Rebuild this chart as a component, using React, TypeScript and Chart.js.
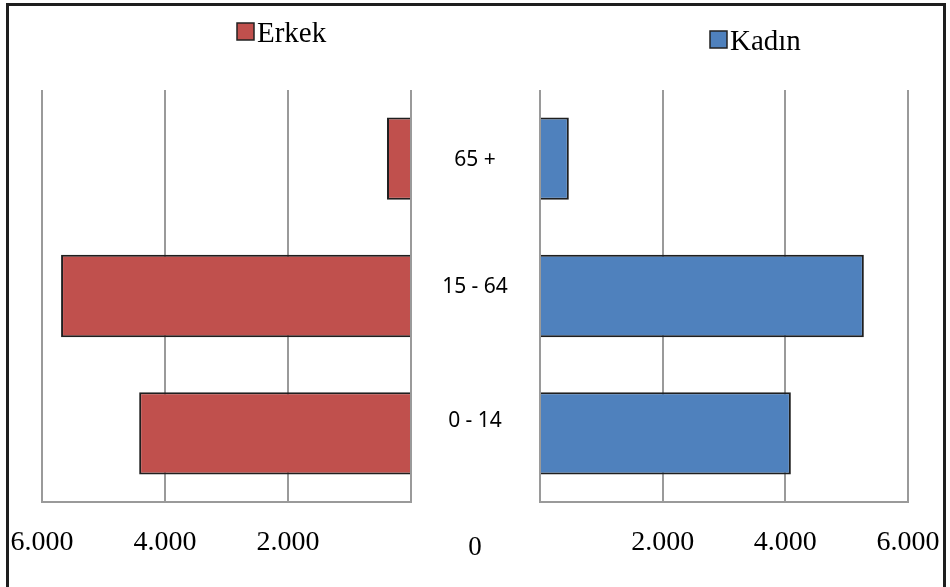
import React, { useEffect, useRef } from 'react';
import { Chart, registerables } from 'chart.js';

Chart.register(...registerables);

const ageGroups = ['65 +', '15 - 64', '0 - 14'];
const maleValues = [390, 5690, 4420];
const femaleValues = [470, 5280, 4090];
const maleLabel = 'Erkek';
const femaleLabel = 'Kadın';
const axisMax = 6000;
const axisStep = 2000;
const zeroLabel = '0';

const RED = '#C0504D';
const BLUE = '#4F81BD';
const GRID = '#9a9a9a';
const SERIF = '"Liberation Serif", "Times New Roman", serif';

const fmt = (v: number) =>
  v === 0 ? '' : String(v).replace(/\B(?=(\d{3})+(?!\d))/g, '.');

const sideLegend = {
  id: 'sideLegend',
  afterDraw(chart: any, _args: any, opts: any) {
    const ds = chart.data.datasets[0];
    const ctx = chart.ctx;
    ctx.save();
    ctx.fillStyle = ds.backgroundColor;
    ctx.fillRect(opts.x, opts.y, 17, 17);
    ctx.strokeStyle = '#222';
    ctx.lineWidth = 1.5;
    ctx.strokeRect(opts.x, opts.y, 17, 17);
    ctx.fillStyle = '#000';
    ctx.font = `29px ${SERIF}`;
    ctx.textAlign = 'left';
    ctx.textBaseline = 'alphabetic';
    ctx.fillText(ds.label, opts.x + 20, opts.baseline);
    ctx.restore();
  },
};

const middleLabels = {
  id: 'middleLabels',
  afterDraw(chart: any, _args: any, opts: any) {
    if (!opts || !opts.enabled) return;
    const ctx = chart.ctx;
    const xs = chart.scales.x;
    const ys = chart.scales.y;
    const cx = xs.getPixelForValue(0) - 65;
    const nudge: number[] = opts.nudge || [];
    ctx.save();
    ctx.fillStyle = '#000';
    ctx.textAlign = 'center';
    ctx.textBaseline = 'middle';
    ctx.font = '21px "Noto Sans", "Open Sans", sans-serif';
    (chart.data.labels as string[]).forEach((l, i) => {
      ctx.fillText(l, cx, ys.getPixelForValue(i) + (nudge[i] || 0));
    });
    ctx.font = `27px ${SERIF}`;
    ctx.fillText(zeroLabel, cx, chart.chartArea.bottom + 46);
    ctx.restore();
  },
};

function makeConfig(
  label: string,
  values: number[],
  color: string,
  reverse: boolean,
  padding: any,
  legendPos: any,
  showMiddle: boolean
): any {
  return {
    type: 'bar',
    data: {
      labels: ageGroups,
      datasets: [
        {
          label,
          data: values,
          backgroundColor: color,
          borderColor: '#1f1f1f',
          borderWidth: 2,
          categoryPercentage: 1,
          barPercentage: 0.6,
        },
      ],
    },
    plugins: [sideLegend, middleLabels],
    options: {
      indexAxis: 'y',
      responsive: false,
      maintainAspectRatio: false,
      animation: false,
      layout: { padding },
      plugins: {
        legend: { display: false },
        tooltip: { enabled: false },
        sideLegend: legendPos,
        middleLabels: { enabled: showMiddle, nudge: [1, -9, -12] },
      },
      scales: {
        x: {
          reverse,
          min: 0,
          max: axisMax,
          afterFit: (s: any) => {
            s.paddingLeft = 0;
            s.paddingRight = 0;
            s.height = 85;
          },
          ticks: {
            stepSize: axisStep,
            callback: (v: any) => fmt(Number(v)),
            color: '#000',
            font: { family: SERIF, size: 28 },
            padding: 24,
            maxRotation: 0,
          },
          grid: {
            color: GRID,
            lineWidth: 2,
            drawTicks: false,
          },
          border: { display: true, color: GRID, width: 2 },
        },
        y: {
          display: false,
        },
      },
    },
  };
}

export default function App() {
  const leftRef = useRef<HTMLCanvasElement>(null);
  const rightRef = useRef<HTMLCanvasElement>(null);

  useEffect(() => {
    const right = new Chart(
      rightRef.current as HTMLCanvasElement,
      makeConfig(
        femaleLabel,
        femaleValues,
        BLUE,
        false,
        { left: 540, right: 42, top: 90, bottom: 0 },
        { x: 710, y: 31, baseline: 50 },
        true
      )
    );
    const left = new Chart(
      leftRef.current as HTMLCanvasElement,
      makeConfig(
        maleLabel,
        maleValues,
        RED,
        true,
        { left: 42, right: 64, top: 90, bottom: 0 },
        { x: 237, y: 23, baseline: 42 },
        false
      )
    );
    return () => {
      left.destroy();
      right.destroy();
    };
  }, []);

  return (
    <div
      style={{
        position: 'absolute',
        left: 0,
        top: 0,
        width: 950,
        height: 587,
        background: '#fff',
        overflow: 'hidden',
      }}
    >
      <canvas
        ref={rightRef}
        width={950}
        height={587}
        style={{ position: 'absolute', left: 0, top: 0, width: 950, height: 587 }}
      />
      <canvas
        ref={leftRef}
        width={475}
        height={587}
        style={{ position: 'absolute', left: 0, top: 0, width: 475, height: 587 }}
      />
      <div
        style={{
          position: 'absolute',
          left: 6,
          top: 3,
          width: 934,
          height: 620,
          borderTop: '3px solid #1e1e1e',
          borderLeft: '3px solid #1e1e1e',
          borderRight: '3px solid #1e1e1e',
          pointerEvents: 'none',
        }}
      />
    </div>
  );
}
